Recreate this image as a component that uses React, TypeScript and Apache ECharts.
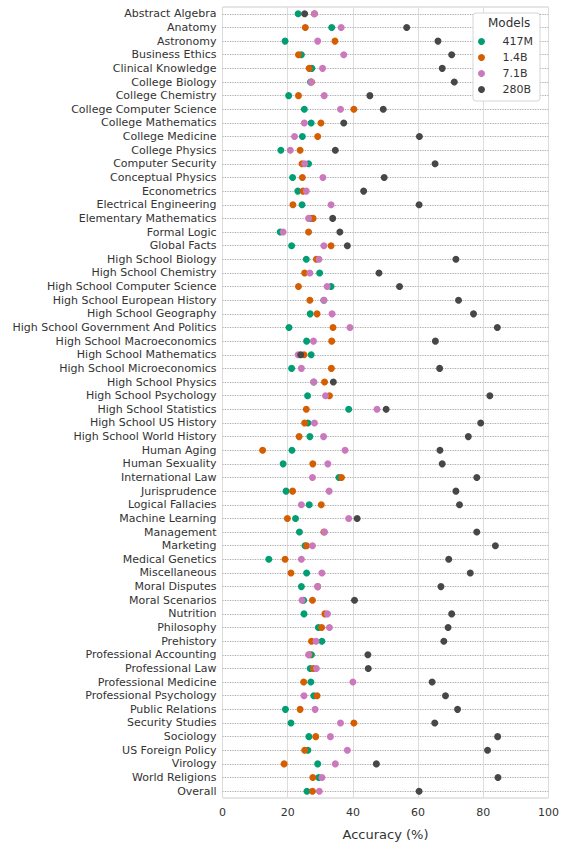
import React, { useEffect, useRef } from "react";
import * as echarts from "echarts";

const categories = [
  "Abstract Algebra", "Anatomy", "Astronomy", "Business Ethics", "Clinical Knowledge",
  "College Biology", "College Chemistry", "College Computer Science", "College Mathematics",
  "College Medicine", "College Physics", "Computer Security", "Conceptual Physics",
  "Econometrics", "Electrical Engineering", "Elementary Mathematics", "Formal Logic",
  "Global Facts", "High School Biology", "High School Chemistry", "High School Computer Science",
  "High School European History", "High School Geography", "High School Government And Politics",
  "High School Macroeconomics", "High School Mathematics", "High School Microeconomics",
  "High School Physics", "High School Psychology", "High School Statistics", "High School US History",
  "High School World History", "Human Aging", "Human Sexuality", "International Law",
  "Jurisprudence", "Logical Fallacies", "Machine Learning", "Management", "Marketing",
  "Medical Genetics", "Miscellaneous", "Moral Disputes", "Moral Scenarios", "Nutrition",
  "Philosophy", "Prehistory", "Professional Accounting", "Professional Law",
  "Professional Medicine", "Professional Psychology", "Public Relations", "Security Studies",
  "Sociology", "US Foreign Policy", "Virology", "World Religions", "Overall",
];

const models = ["417M", "1.4B", "7.1B", "280B"];
const colors = ["#029e73", "#d55e00", "#cc78bc", "#474747"];

const acc417M = [
  23.2, 33.5, 19.2, 24.2, 27.4, 27.0, 20.3, 25.1, 27.2, 24.5,
  17.9, 26.4, 21.5, 23.1, 24.4, 26.9, 17.7, 21.2, 25.7, 29.8,
  33.3, 31.1, 26.9, 20.4, 25.8, 27.2, 21.2, 28.0, 26.1, 38.7,
  26.2, 26.8, 21.3, 18.6, 35.7, 19.5, 26.6, 22.4, 23.6, 25.3,
  14.2, 25.8, 24.2, 24.9, 25.0, 29.4, 30.5, 27.3, 26.9, 27.1,
  28.0, 19.3, 21.0, 26.5, 26.2, 29.2, 29.5, 25.9,
];
const acc1_4B = [
  28.2, 25.4, 34.5, 23.3, 26.6, 27.3, 23.3, 40.3, 30.2, 29.2,
  23.8, 24.4, 24.5, 24.7, 21.6, 27.8, 26.4, 33.3, 28.8, 25.2,
  23.3, 26.8, 29.0, 33.9, 33.5, 25.0, 33.4, 31.3, 32.8, 25.7,
  25.2, 23.5, 12.3, 27.7, 36.5, 21.5, 30.3, 19.9, 31.1, 25.8,
  19.2, 21.0, 29.2, 27.6, 31.4, 30.4, 27.3, 26.6, 27.9, 24.9,
  29.0, 23.8, 40.3, 28.6, 25.2, 18.9, 27.7, 27.6,
];
const acc7_1B = [
  28.2, 36.4, 29.2, 37.2, 30.7, 27.2, 31.2, 36.2, 25.1, 22.1,
  20.8, 25.2, 30.8, 25.7, 33.3, 26.4, 18.6, 31.1, 29.6, 26.8,
  32.1, 31.1, 33.6, 39.1, 27.9, 23.2, 24.2, 28.0, 31.6, 47.4,
  28.2, 31.0, 37.6, 32.3, 27.6, 32.7, 24.2, 38.7, 31.3, 27.6,
  24.2, 30.5, 29.2, 24.4, 32.2, 32.8, 28.7, 26.4, 28.8, 40.0,
  25.0, 28.4, 36.2, 33.1, 38.3, 34.6, 30.5, 29.7,
];
const acc280B = [
  25.2, 56.5, 66.1, 70.3, 67.4, 71.1, 45.2, 49.3, 37.2, 60.4,
  34.6, 65.2, 49.6, 43.3, 60.3, 33.8, 36.0, 38.3, 71.6, 48.0,
  54.3, 72.4, 77.0, 84.3, 65.3, 24.0, 66.6, 34.0, 82.0, 50.2,
  79.2, 75.4, 66.7, 67.4, 78.0, 71.6, 72.7, 41.3, 78.0, 83.7,
  69.4, 76.0, 67.0, 40.5, 70.3, 69.2, 67.9, 44.6, 44.7, 64.3,
  68.4, 72.1, 65.1, 84.4, 81.3, 47.2, 84.5, 60.3,
];

const seriesValues = [acc417M, acc1_4B, acc7_1B, acc280B];

export default function App() {
  const ref = useRef<HTMLDivElement>(null);

  useEffect(() => {
    if (!ref.current) return;
    const chart = echarts.init(ref.current, undefined, { renderer: "svg" });
    const font = "DejaVu Sans";
    const rowLines = categories.map((c) => ({ yAxis: c }));

    const option: any = {
      animation: false,
      textStyle: { fontFamily: font },
      grid: {
        left: 222.5,
        right: 12,
        top: 7,
        bottom: 41,
        show: true,
        borderColor: "#cccccc",
        borderWidth: 1,
        backgroundColor: "#ffffff",
      },
      xAxis: {
        type: "value",
        min: 0,
        max: 100,
        interval: 20,
        axisLine: { show: false },
        axisTick: { show: false },
        axisLabel: { fontSize: 11, color: "#333333", margin: 9, fontFamily: font },
        splitLine: { show: true, lineStyle: { color: "#dcdcdc", width: 1 } },
        name: "Accuracy (%)",
        nameLocation: "middle",
        nameGap: 30,
        nameTextStyle: { fontSize: 13, color: "#333333", fontFamily: font },
      },
      yAxis: {
        type: "category",
        data: categories,
        inverse: true,
        axisLine: { show: false },
        axisTick: { show: false },
        axisLabel: { fontSize: 11, color: "#333333", margin: 6, fontFamily: font, interval: 0 },
        splitLine: { show: false },
      },
      legend: {
        data: models,
        orient: "vertical",
        left: 473,
        top: 13,
        padding: [22, 7, 5, 5],
        itemWidth: 20,
        itemHeight: 7,
        itemGap: 3,
        icon: "circle",
        backgroundColor: "#ffffff",
        borderColor: "#d6d6d6",
        borderWidth: 1,
        borderRadius: 3,
        textStyle: { fontSize: 11, color: "#333333", fontFamily: font, lineHeight: 13, padding: [0, 0, 0, 6] },
      },
      graphic: [
        {
          type: "text",
          left: 488,
          top: 17,
          z: 100,
          style: { text: "Models", fontSize: 12, fill: "#333333", fontFamily: font },
        },
      ],
      series: [
        {
          type: "scatter",
          name: "_rowsSolid",
          data: [],
          silent: true,
          z: 1,
          markLine: {
            z: 1,
            silent: true,
            symbol: "none",
            label: { show: false },
            lineStyle: { color: "#ececec", type: "solid", width: 1 },
            data: rowLines,
          },
        },
        {
          type: "scatter",
          name: "_rowsDotted",
          data: [],
          silent: true,
          z: 1,
          markLine: {
            z: 1,
            silent: true,
            symbol: "none",
            label: { show: false },
            lineStyle: { color: "#9a9a9a", type: [1, 1.5], width: 0.8 },
            data: rowLines,
          },
        },
        ...models.map((m, k) => ({
          type: "scatter",
          name: m,
          symbol: "circle",
          symbolSize: 7,
          z: 3 + k,
          itemStyle: { color: colors[k], opacity: 1 },
          data: categories.map((c, i) => [seriesValues[k][i], c]),
        })),
      ],
    };
    chart.setOption(option);
    return () => chart.dispose();
  }, []);

  return (
    <div
      ref={ref}
      style={{ position: "absolute", left: 0, top: 0, width: 562, height: 846 }}
    />
  );
}
